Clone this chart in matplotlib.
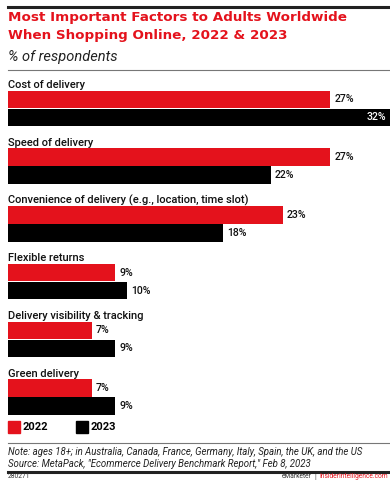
import matplotlib.pyplot as plt
import numpy as np

plt.rcParams['font.family'] = ['Roboto', 'DejaVu Sans']

categories = ['Cost of delivery', 'Speed of delivery',
              'Convenience of delivery (e.g., location, time slot)',
              'Flexible returns', 'Delivery visibility & tracking',
              'Green delivery']
vals_2022 = [27, 27, 23, 9, 7, 7]
vals_2023 = [32, 22, 18, 10, 9, 9]
series = ['2022', '2023']

RED = '#e4121c'
W, H = 390, 480

fig = plt.figure(figsize=(W / 100, H / 100), dpi=100)


def fy(px):
    return 1 - px / H


def fx(px):
    return px / W


# header
fig.add_artist(plt.Line2D([fx(8), 1], [fy(7), fy(7)], color='#222222', lw=2.2))
fig.text(fx(8), fy(18), 'Most Important Factors to Adults Worldwide', color=RED,
         fontsize=9.7, fontweight='bold', va='center', family='DejaVu Sans')
fig.text(fx(8), fy(36), 'When Shopping Online, 2022 & 2023', color=RED,
         fontsize=9.7, fontweight='bold', va='center', family='DejaVu Sans')
fig.text(fx(8), fy(57), '% of respondents', color='#222222', fontsize=10.5,
         style='italic', va='center')
fig.add_artist(plt.Line2D([fx(8), 1], [fy(70), fy(70)], color='#777777', lw=0.8))

# bars
step = 57.7
top_px, bot_px = 75, 420
y0 = 99.5
ax = fig.add_axes([fx(8), fy(bot_px), 1 - fx(8), (bot_px - top_px) / H])
ax.set_xlim(0, 32)
ax.set_ylim((bot_px - y0) / step, (top_px - y0) / step)
ax.axis('off')

idx = np.arange(len(categories))
bh = 17.5 / step
off = 18 / step
ax.barh(idx, vals_2022, height=bh, color=RED, label=series[0])
ax.barh(idx + off, vals_2023, height=bh, color='black', label=series[1])

for i, cat in enumerate(categories):
    ax.text(0, i - 0.25, cat, fontsize=8, fontweight='medium',
            va='center', ha='left', color='#111111')
    for v, yy in [(vals_2022[i], i), (vals_2023[i], i + off)]:
        if v >= 30:
            ax.text(v - 0.3, yy, f'{v}%', fontsize=7.6, fontweight='medium',
                    va='center', ha='right', color='white')
        else:
            ax.text(v + 0.35, yy, f'{v}%', fontsize=7.6, fontweight='medium',
                    va='center', ha='left', color='#111111')

# legend
fig.add_artist(plt.Rectangle((fx(8), fy(433)), fx(12), 12 / H, color=RED))
fig.text(fx(23), fy(427), series[0], fontsize=8, fontweight='bold', va='center')
fig.add_artist(plt.Rectangle((fx(76), fy(433)), fx(12), 12 / H, color='black'))
fig.text(fx(91), fy(427), series[1], fontsize=8, fontweight='bold', va='center')

fig.add_artist(plt.Line2D([fx(8), 1], [fy(443), fy(443)], color='#777777', lw=0.8))
fig.text(fx(8), fy(452), 'Note: ages 18+; in Australia, Canada, France, Germany, Italy, Spain, the UK, and the US',
         fontsize=6.9, style='italic', va='center', color='#222222')
fig.text(fx(8), fy(464), 'Source: MetaPack, "Ecommerce Delivery Benchmark Report," Feb 8, 2023',
         fontsize=6.9, style='italic', va='center', color='#222222')
fig.add_artist(plt.Line2D([fx(8), 1], [fy(472), fy(472)], color='#222222', lw=2.2))
fig.text(fx(8), fy(476.5), '280271', fontsize=4.8, va='center', color='#333333')

# footer credit, right aligned
url = fig.text(fx(388), fy(476.5), 'InsiderIntelligence.com', fontsize=4.8,
               va='center', ha='right', color=RED)
fig.canvas.draw()
url_left = url.get_window_extent().x0
fig.text(fx(url_left - 4), fy(476.5), '|', fontsize=4.8, va='center', ha='center', color='#333333')
fig.text(fx(url_left - 8), fy(476.5), 'eMarketer', fontsize=4.8, va='center',
         ha='right', color='#333333')

fig.savefig('out.png', dpi=100)
